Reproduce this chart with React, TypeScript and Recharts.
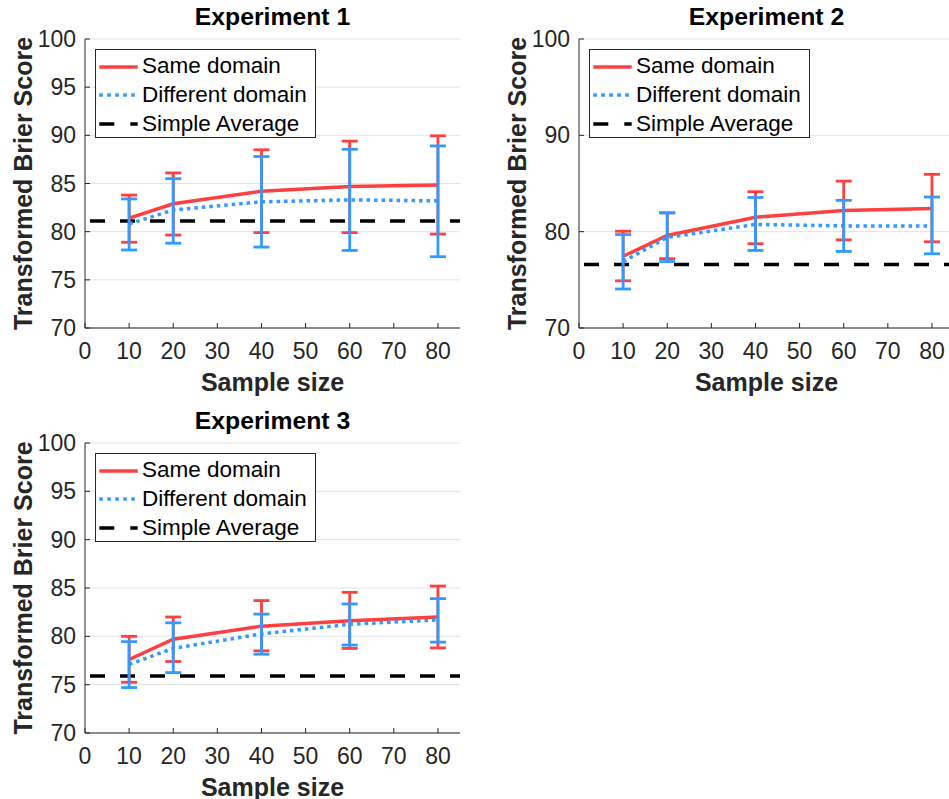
import React from 'react';
import {
  LineChart,
  Line,
  XAxis,
  YAxis,
  CartesianGrid,
  ErrorBar,
  ReferenceLine,
  Legend,
  Label,
} from 'recharts';

// ---------- data ----------
const sampleSizes = [10, 20, 40, 60, 80];
const xTicks = [0, 10, 20, 30, 40, 50, 60, 70, 80];
const yTicksFine = [70, 75, 80, 85, 90, 95, 100];
const yTicksCoarse = [70, 80, 90, 100];

const seriesNames = ['Same domain', 'Different domain', 'Simple Average'];
const titles = ['Experiment 1', 'Experiment 2', 'Experiment 3'];
const xLabelText = 'Sample size';
const yLabelText = 'Transformed Brier Score';

// Experiment 1
const exp1Same = [81.4, 82.9, 84.2, 84.7, 84.85];
const exp1SameLow = [78.9, 79.65, 79.9, 79.9, 79.75];
const exp1SameHigh = [83.8, 86.1, 88.5, 89.4, 89.95];
const exp1Diff = [80.8, 82.25, 83.1, 83.3, 83.2];
const exp1DiffLow = [78.1, 78.8, 78.4, 78.05, 77.4];
const exp1DiffHigh = [83.4, 85.5, 87.8, 88.55, 88.9];
const exp1Avg = 81.1;

// Experiment 2
const exp2Same = [77.45, 79.6, 81.5, 82.2, 82.4];
const exp2SameLow = [74.9, 77.2, 78.75, 79.15, 78.95];
const exp2SameHigh = [80.05, 81.95, 84.15, 85.25, 85.95];
const exp2Diff = [76.9, 79.4, 80.75, 80.6, 80.6];
const exp2DiffLow = [74.05, 76.9, 78.05, 77.95, 77.7];
const exp2DiffHigh = [79.7, 81.95, 83.55, 83.25, 83.6];
const exp2Avg = 76.6;

// Experiment 3
const exp3Same = [77.6, 79.7, 81.05, 81.6, 82.0];
const exp3SameLow = [75.25, 77.4, 78.5, 78.75, 78.8];
const exp3SameHigh = [80.0, 82.0, 83.7, 84.55, 85.2];
const exp3Diff = [77.1, 78.75, 80.25, 81.25, 81.7];
const exp3DiffLow = [74.7, 76.25, 78.15, 79.1, 79.4];
const exp3DiffHigh = [79.45, 81.4, 82.3, 83.35, 83.9];
const exp3Avg = 75.9;

// ---------- styles ----------
const FONT = '"Liberation Sans", Arial, Helvetica, sans-serif';
const RED = '#FF4040';
const BLUE = '#3399FF';
const AXIS = '#262626';
const GRID = '#e2e2e2';

const buildData = (
  same: number[],
  sameLow: number[],
  sameHigh: number[],
  diff: number[],
  diffLow: number[],
  diffHigh: number[]
) =>
  sampleSizes.map((n, i) => ({
    n,
    same: same[i],
    sameErr: [same[i] - sameLow[i], sameHigh[i] - same[i]],
    diff: diff[i],
    diffErr: [diff[i] - diffLow[i], diffHigh[i] - diff[i]],
  }));

const XLabelContent = (props: any) => {
  const vb = props.viewBox || { x: 85, y: 328, width: 375, height: 72 };
  return (
    <text
      x={vb.x + vb.width / 2}
      y={vb.y + 62.5}
      textAnchor="middle"
      fontSize={25}
      fontWeight="bold"
      fill={AXIS}
      fontFamily={FONT}
    >
      {xLabelText}
    </text>
  );
};

const YLabelContent = (props: any) => {
  const vb = props.viewBox || { x: 0, y: 39, width: 85, height: 289 };
  const x = vb.x + 31.5;
  const y = vb.y + vb.height / 2;
  return (
    <text
      x={x}
      y={y}
      transform={`rotate(-90 ${x} ${y})`}
      textAnchor="middle"
      fontSize={25}
      fontWeight="bold"
      fill={AXIS}
      fontFamily={FONT}
    >
      {yLabelText}
    </text>
  );
};

const legendSamples = [
  { name: seriesNames[0], color: RED, dash: undefined as string | undefined, width: 3.5 },
  { name: seriesNames[1], color: BLUE, dash: '3.5 4.5', width: 3.5 },
  { name: seriesNames[2], color: '#000', dash: '15 16', width: 3.5 },
];

const LegendBox = () => (
  <div
    style={{
      border: `1px solid ${AXIS}`,
      background: '#fff',
      width: 221,
      height: 89,
      paddingTop: 2,
      boxSizing: 'border-box',
      fontFamily: FONT,
      fontSize: 22.5,
      color: '#000',
    }}
  >
    {legendSamples.map((s) => (
      <div
        key={s.name}
        style={{ display: 'flex', alignItems: 'center', height: 28.7 }}
      >
        <svg width={46} height={10} style={{ flex: 'none', display: 'block' }}>
          <line
            x1={3.3}
            x2={41.7}
            y1={5}
            y2={5}
            stroke={s.color}
            strokeWidth={s.width}
            strokeDasharray={s.dash}
          />
        </svg>
        <span style={{ lineHeight: '28.7px', whiteSpace: 'nowrap' }}>{s.name}</span>
      </div>
    ))}
  </div>
);

type PanelProps = {
  title: string;
  left: number;
  top: number;
  height: number;
  data: any[];
  avg: number;
  yTicks: number[];
};

const Panel = ({ title, left, top, height, data, avg, yTicks }: PanelProps) => (
  <div style={{ position: 'absolute', left, top, width: 480, height }}>
    <div
      style={{
        position: 'absolute',
        left: 85,
        width: 375,
        top: 1.5,
        textAlign: 'center',
        fontFamily: FONT,
        fontWeight: 'bold',
        fontSize: 24.75,
        lineHeight: '30px',
        color: '#000',
        whiteSpace: 'nowrap',
      }}
    >
      {title}
    </div>
    <LineChart
      width={480}
      height={height}
      data={data}
      margin={{ top: 39, right: 20, bottom: 0, left: 0 }}
      style={{ position: 'absolute', left: 0, top: 0 }}
    >
      <CartesianGrid vertical={false} stroke={GRID} strokeWidth={1} />
      <XAxis
        dataKey="n"
        type="number"
        domain={[0, 85]}
        ticks={xTicks}
        interval={0}
        allowDataOverflow
        height={72}
        tickSize={-5}
        tickMargin={20}
        stroke={AXIS}
        tick={{ fill: AXIS, fontSize: 23, fontFamily: FONT }}
      >
        <Label content={XLabelContent} />
      </XAxis>
      <XAxis
        xAxisId="top"
        orientation="top"
        type="number"
        domain={[0, 85]}
        ticks={xTicks}
        interval={0}
        allowDataOverflow
        height={0}
        tickSize={-5}
        tick={false}
        stroke={AXIS}
      />
      <YAxis
        type="number"
        domain={[70, 100]}
        ticks={yTicks}
        interval={0}
        allowDataOverflow
        width={85}
        tickSize={-5}
        tickMargin={14}
        stroke={AXIS}
        tick={{ fill: AXIS, fontSize: 23, fontFamily: FONT }}
      >
        <Label content={YLabelContent} />
      </YAxis>
      <YAxis
        yAxisId="r"
        orientation="right"
        type="number"
        domain={[70, 100]}
        ticks={yTicks}
        interval={0}
        allowDataOverflow
        width={0}
        tickSize={-5}
        tick={false}
        stroke={AXIS}
      />
      <ReferenceLine
        y={avg}
        stroke="#000"
        strokeWidth={3.5}
        strokeDasharray="15 15"
        strokeDashoffset={25}
        ifOverflow="visible"
      />
      <Line
        dataKey="same"
        name={seriesNames[0]}
        type="linear"
        stroke={RED}
        strokeWidth={3.5}
        dot={false}
        isAnimationActive={false}
      >
        <ErrorBar
          dataKey="sameErr"
          direction="y"
          width={8}
          strokeWidth={2.8}
          stroke={RED}
          isAnimationActive={false}
        />
      </Line>
      <Line
        dataKey="diff"
        name={seriesNames[1]}
        type="linear"
        stroke={BLUE}
        strokeWidth={3.5}
        strokeDasharray="3.5 4"
        dot={false}
        isAnimationActive={false}
      >
        <ErrorBar
          dataKey="diffErr"
          direction="y"
          width={8}
          strokeWidth={2.8}
          stroke={BLUE}
          isAnimationActive={false}
        />
      </Line>
      <Legend
        layout="horizontal"
        verticalAlign="middle"
        align="center"
        content={() => <LegendBox />}
        wrapperStyle={{ left: 95, top: 49.3, width: 'auto', height: 'auto' }}
      />
    </LineChart>
  </div>
);

export default function App() {
  const d1 = buildData(exp1Same, exp1SameLow, exp1SameHigh, exp1Diff, exp1DiffLow, exp1DiffHigh);
  const d2 = buildData(exp2Same, exp2SameLow, exp2SameHigh, exp2Diff, exp2DiffLow, exp2DiffHigh);
  const d3 = buildData(exp3Same, exp3SameLow, exp3SameHigh, exp3Diff, exp3DiffLow, exp3DiffHigh);
  return (
    <div style={{ width: 933, height: 783 }}>
      <div
        style={{
          position: 'fixed',
          left: 0,
          top: 0,
          width: 949,
          height: 799,
          overflow: 'hidden',
          background: '#fff',
          fontFamily: FONT,
        }}
      >
        <Panel title={titles[0]} left={0} top={0} height={400} data={d1} avg={exp1Avg} yTicks={yTicksFine} />
        <Panel title={titles[1]} left={494} top={0} height={400} data={d2} avg={exp2Avg} yTicks={yTicksCoarse} />
        <Panel title={titles[2]} left={0} top={404} height={401} data={d3} avg={exp3Avg} yTicks={yTicksFine} />
      </div>
    </div>
  );
}
